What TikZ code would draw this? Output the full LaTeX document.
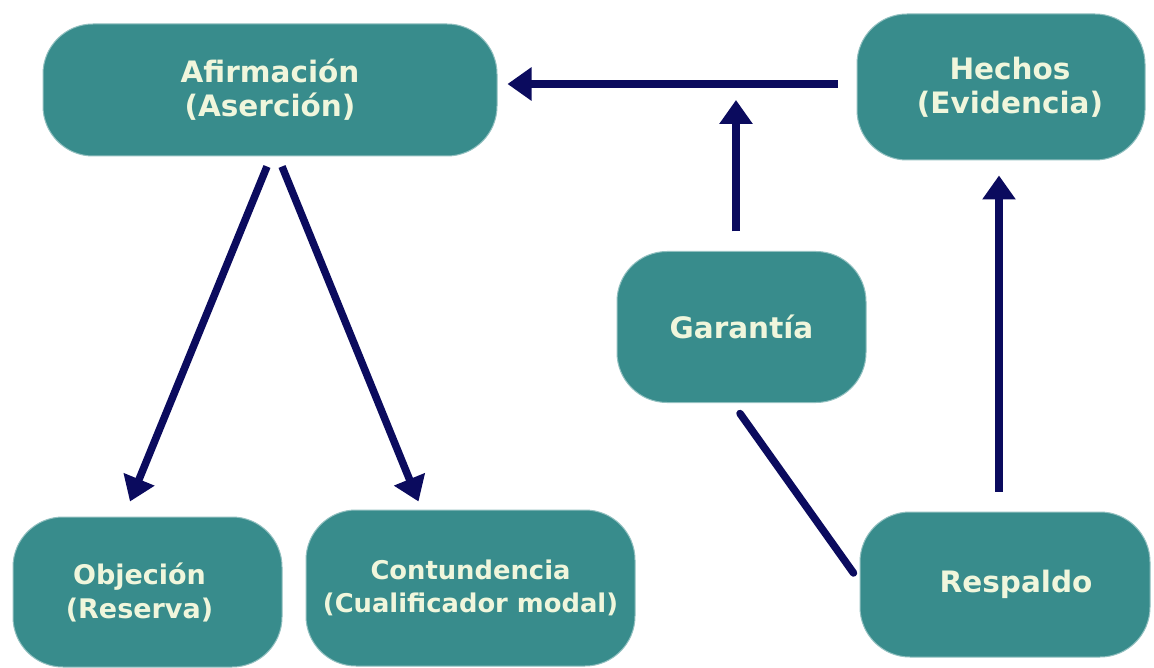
\documentclass[tikz,border=0pt]{standalone}
\usepackage{fontspec}
\setmainfont{DejaVu Sans}
\usetikzlibrary{arrows.meta,calc}
\definecolor{tealbox}{HTML}{388C8C}
\definecolor{creamtxt}{HTML}{F0F6DC}
\definecolor{navyline}{HTML}{0B0B5E}
\begin{document}
\begin{tikzpicture}[x=1pt,y=-1pt,
  box/.style={rectangle, rounded corners=50pt, fill=tealbox, draw=tealbox!55!white, line width=1pt,
    text=creamtxt, font=\bfseries\fontsize{29.5}{34}\selectfont, align=center, inner sep=0pt},
  smallfont/.style={font=\bfseries\fontsize{27}{34}\selectfont},
  tinyfont/.style={font=\bfseries\fontsize{25.8}{33}\selectfont},
  arr/.style={draw=navyline, line width=7.5pt, -{Triangle[length=24pt,width=32pt]}},
  ln/.style={draw=navyline, line width=7.5pt, line cap=round}]
\fill[white] (0,0) rectangle (1154,668);
\useasboundingbox (0,0) rectangle (1154,668);
\node[box, minimum width=454pt, minimum height=132pt] (afi) at (270,90) {Afirmación\\(Aserción)};
\node[box, minimum width=288pt, minimum height=146pt] (hech) at (1001,87) {\hspace*{18pt}Hechos\\\hspace*{18pt}(Evidencia)};
\node[box, minimum width=249pt, minimum height=151pt] (gar) at (741.5,327) {Garantía};
\node[box, smallfont, minimum width=269pt, minimum height=150pt] (obj) at (147.5,592) {\hspace*{-16pt}Objeción\\\hspace*{-16pt}(Reserva)};
\node[box, tinyfont, minimum width=329pt, minimum height=156pt] (cont) at (470.5,588) {Contundencia\\(Cualificador modal)};
\node[box, minimum width=290pt, minimum height=145pt] (resp) at (1005,584.5) {\hspace*{22pt}Respaldo};
\draw[arr] ($(hech.west)+(-19,-3)$) -- ($(afi.east)+(10,-6)$);
\draw[arr] ($(gar.north)+(-5.5,-19.5)$) -- ($(gar.north |- afi.east)+(-5.5,10)$);
\draw[arr] ($(resp.north)+(-6,-20)$) -- ($(resp.north |- hech.south)+(-6,15)$);
\draw[ln] ($(gar.south)+(-1.5,10.5)$) -- ($(resp.west)+(-6,-11.5)$);
\draw[arr] ($(afi.south)+(-3,10)$) -- ($(obj.north)+(-17.5,-15)$);
\draw[arr] ($(afi.south)+(12,10)$) -- ($(cont.north)+(-52,-8)$);
\end{tikzpicture}
\end{document}
